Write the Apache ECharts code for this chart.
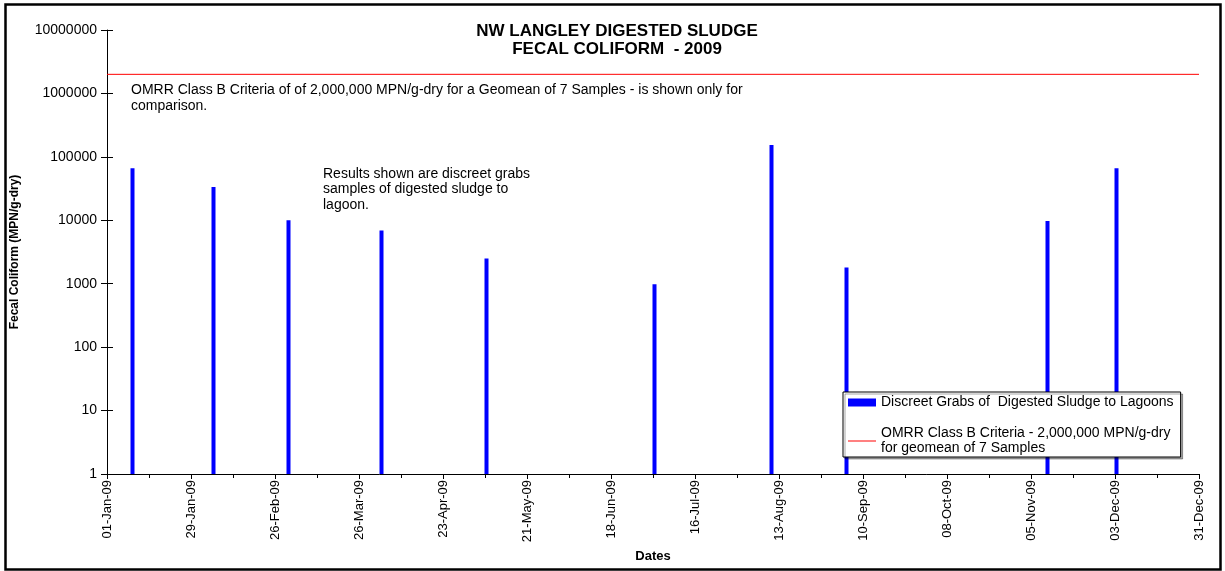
<!DOCTYPE html>
<html>
<head>
<meta charset="utf-8">
<script src="https://cdn.jsdelivr.net/npm/echarts@6/dist/echarts.min.js"></script>
<style>
html,body{margin:0;padding:0;background:#fff;}
#chart{width:1225px;height:571px;}
</style>
</head>
<body>
<div id="chart"></div>
<script>
// ---- data ----
const sampleDates = ['2009-01-09','2009-02-05','2009-03-02','2009-04-02','2009-05-07','2009-07-02','2009-08-10','2009-09-04','2009-11-10','2009-12-03'];
const fecalColiform = [66000, 33500, 10000, 6900, 2500, 980, 154000, 1800, 9700, 66000];
const criteriaValue = 2000000;
const axisStart = '2009-01-01';
const axisEnd = '2009-12-31';
const tickDays = 28;
const monthNames = ['Jan','Feb','Mar','Apr','May','Jun','Jul','Aug','Sep','Oct','Nov','Dec'];
const barName = 'Discreet Grabs of  Digested Sludge to Lagoons';
const lineName = 'OMRR Class B Criteria - 2,000,000 MPN/g-dry\nfor geomean of 7 Samples';
const titleText = 'NW LANGLEY DIGESTED SLUDGE\nFECAL COLIFORM  - 2009';
const note1 = 'OMRR Class B Criteria of of 2,000,000 MPN/g-dry for a Geomean of 7 Samples - is shown only for\ncomparison.';
const note2 = 'Results shown are discreet grabs\nsamples of digested sludge to\nlagoon.';

// ---- helpers ----
const DAY = 86400000;
function toUTC(s){ const p = s.split('-').map(Number); return Date.UTC(p[0], p[1]-1, p[2]); }
const t0 = toUTC(axisStart);
const dayIndex = s => (toUTC(s) - t0) / DAY;
const spanDays = dayIndex(axisEnd);
function fmtDay(v){
  const d = new Date(t0 + Math.round(v) * DAY);
  const dd = String(d.getUTCDate()).padStart(2,'0');
  const yy = String(d.getUTCFullYear()).slice(2);
  return dd + '-' + monthNames[d.getUTCMonth()] + '-' + yy;
}
// Excel date axis centres each bar inside its day slot
const barData = sampleDates.map((s,i) => [dayIndex(s) + 0.5, fecalColiform[i]]);
const lineData = [[0, criteriaValue], [spanDays, criteriaValue]];

const FONT = 'Arial, "Liberation Sans", sans-serif';
const chart = echarts.init(document.getElementById('chart'), null, {renderer:'canvas'});
chart.setOption({
  backgroundColor: '#fff',
  animation: false,
  textStyle: {fontFamily: FONT},
  grid: {left: 107, right: 26, top: 30, bottom: 97, containLabel: false},
  title: {
    text: titleText, left: 612, top: 17, textAlign: 'center',
    textStyle: {fontFamily: FONT, fontSize: 17, fontWeight: 'bold', color: '#000', lineHeight: 18}
  },
  legend: {
    orient: 'vertical', left: 843, top: 392, symbolKeepAspect: true,
    backgroundColor: '#fff', borderColor: '#000', borderWidth: 1,
    padding: [3, 7, 1, 5], itemGap: 16, itemWidth: 28, itemHeight: 8,
    shadowColor: 'rgba(0,0,0,0.35)', shadowOffsetX: 2, shadowOffsetY: 2, shadowBlur: 0,
    textStyle: {fontFamily: FONT, fontSize: 14, color: '#000', lineHeight: 15},
    data: [
      {name: barName, icon: 'rect', itemStyle: {color: '#0000ff'}},
      {name: lineName, icon: 'path://M0,0 L28,0 L28,1 L0,1 Z', itemStyle: {color: '#ff0000'}}
    ]
  },
  xAxis: {
    type: 'value', min: 0, max: spanDays, interval: tickDays,
    name: 'Dates', nameLocation: 'middle', nameGap: 73,
    nameTextStyle: {fontFamily: FONT, fontSize: 13, fontWeight: 'bold', color: '#000'},
    axisLine: {show: true, lineStyle: {color: '#000', width: 1}},
    axisTick: {show: true, length: 5, lineStyle: {color: '#000'}},
    minorTick: {show: true, splitNumber: 2, length: 4, lineStyle: {color: '#000'}},
    splitLine: {show: false},
    axisLabel: {rotate: 90, fontSize: 13, color: '#000', margin: 6, formatter: fmtDay, fontFamily: FONT}
  },
  yAxis: [{
    type: 'log', logBase: 10, min: 1, max: 10000000,
    name: 'Fecal Coliform (MPN/g-dry)', nameLocation: 'middle', nameGap: 86,
    nameTextStyle: {fontFamily: FONT, fontSize: 12, fontWeight: 'bold', color: '#000'},
    axisLine: {show: true, lineStyle: {color: '#000', width: 1}},
    axisTick: {show: true, length: 6, lineStyle: {color: '#000'}},
    splitLine: {show: false},
    axisLabel: {fontSize: 14, color: '#000', margin: 10, fontFamily: FONT,
      formatter: v => String(Math.round(v))}
  }, {
    type: 'log', logBase: 10, min: 1, max: 10000000, position: 'left', offset: 0,
    axisLine: {show: false}, axisLabel: {show: false}, splitLine: {show: false},
    axisTick: {show: true, inside: true, length: 6, lineStyle: {color: '#000'}}
  }],
  graphic: [
    {type: 'rect', left: 3, top: 2, shape: {width: 1215, height: 565}, silent: true, z: -1,
     style: {fill: 'none', stroke: '#000', lineWidth: 2.5}},
    {type: 'text', left: 131, top: 82, style: {text: note1, font: '14px ' + FONT, fill: '#000', lineHeight: 16}},
    {type: 'text', left: 323, top: 166, style: {text: note2, font: '14px ' + FONT, fill: '#000', lineHeight: 15.5}}
  ],
  series: [
    {name: barName, type: 'bar', data: barData, barWidth: 4,
     itemStyle: {color: '#0000ff'}, z: 3},
    {name: lineName, type: 'line', data: lineData, symbol: 'none', showSymbol: false,
     lineStyle: {color: '#ff0000', width: 1}, itemStyle: {color: '#ff0000'}, z: 2}
  ]
});
</script>
</body>
</html>
